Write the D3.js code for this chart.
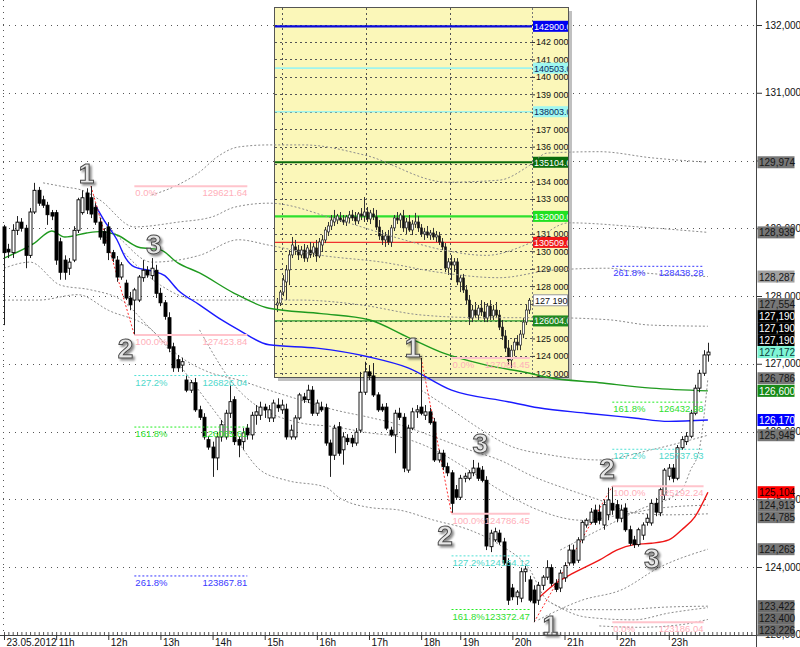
<!DOCTYPE html>
<html><head><meta charset="utf-8">
<script src="https://d3js.org/d3.v7.min.js"></script>
<style>body{margin:0;background:#fff}svg{display:block;font-family:Arial,"Liberation Sans",sans-serif}</style>
</head><body><svg id="c" width="800" height="647"></svg>
<script>
// ---------------- DATA ----------------
const hourTicks = [0,12,24,36,48,60,72,84,96,105,117,129,141,153];
const hourLabels = ["23.05.2012","11h","12h","13h","14h","15h","16h","17h","18h","19h","20h","21h","22h","23h"];
const priceTicks = [123000,124000,125000,126000,127000,128000,129000,130000,131000,132000];

// main candles [open, high, low, close]
const candles = [
[129020,129050,127570,128640],[128690,128770,128560,128650],[128640,129060,128560,128970],[128970,129180,128900,129090],
[129090,129150,128950,129000],[129000,129050,128410,128600],[128600,129300,128560,129240],[129240,129670,129210,129560],
[129560,129610,129330,129370],[129420,129480,129300,129340],[129340,129390,129050,129200],[129230,129270,129120,129180],
[129230,129270,128460,128530],[128800,128860,128240,128350],[128530,128600,128240,128350],[128410,128560,128310,128500],
[128530,129030,128500,128970],[128970,129450,128930,129420],[129230,129560,129200,129450],[129520,129590,129210,129270],
[129450,129622,129150,129210],[129310,129370,129050,129090],[129090,129150,128830,128870],[128950,129000,128740,128780],
[129020,129090,128530,128640],[128640,128680,128500,128560],[128530,128590,128210,128280],[128280,128500,128240,128460],
[128190,128240,127940,127970],[127970,128060,127790,127870],[127940,128120,127424,128090],[127940,128310,127910,128280],
[128270,128530,128210,128380],[128380,128440,128270,128310],[128300,128560,128240,128410],[128380,128460,127970,128040],
[128040,128120,127850,127900],[127900,127940,127650,127700],[127680,127760,127170,127230],[127250,127310,126880,126940],
[127060,127130,126880,126940],[126980,127090,126880,127030],[126760,126830,126580,126610],[126610,126760,126570,126720],
[126720,126790,126290,126320],[126320,126380,126170,126210],[126210,126270,125880,125920],[125880,125930,125730,125770],
[125770,125850,125330,125610],[125610,125990,125430,125920],[125920,126170,125850,126100],[125920,126320,125880,126270],
[126270,126690,126200,126440],[126470,126520,125800,125850],[125880,125930,125620,125800],[125850,126050,125730,125980],
[126050,126110,125880,125950],[125950,126290,125880,126240],[126240,126390,126100,126290],[126240,126440,126170,126360],
[126360,126410,126200,126320],[126200,126390,126140,126320],[126200,126470,126140,126420],[126390,126490,126290,126350],
[126320,126470,126260,126390],[126330,126410,125880,125920],[125920,126100,125880,126020],[125920,126240,125880,126200],
[126200,126570,126170,126540],[126510,126570,126420,126470],[126470,126690,126420,126610],[126610,126670,126230,126270],
[126270,126470,126230,126420],[126360,126440,126290,126320],[126350,126410,125790,125830],[125830,125880,125330,125650],
[125650,126100,125580,126050],[126070,126140,125640,125680],[125730,125990,125510,125920],[125900,125960,125800,125850],
[125900,125950,125770,125830],[125830,126050,125790,125990],[126020,126880,125980,126580],[126580,127030,126540,126880],
[126880,126980,126760,126820],[126820,127010,126510,126540],[126540,126580,126290,126320],[126360,126410,126290,126320],
[126360,126420,126020,126050],[126020,126070,125920,125950],[125950,126320,125680,126270],[126270,126350,126170,126210],
[126210,126270,125400,125460],[125430,126100,125390,126050],[126050,126350,126020,126290],[126290,126390,126200,126320],
[126360,127084,126240,126270],[126240,126390,126170,126290],[126290,126350,126100,126130],[126140,126200,125550,125580],
[125580,125730,125540,125680],[125680,125730,125430,125480],[125480,125540,125340,125390],[125390,125430,124786,124940],
[125140,125210,124990,125030],[125030,125360,124990,125310],[125310,125390,125250,125340],[125310,125430,125280,125390],
[125390,125580,125340,125460],[125460,125540,125270,125310],[125430,125490,125250,125280],[125280,125340,124250,124310],
[124300,124550,124220,124500],[124400,124580,124370,124520],[124500,124550,124330,124370],[124370,124430,124030,124060],
[124060,124130,123440,123510],[123690,123750,123510,123560],[123560,123660,123440,123630],[123540,123990,123480,123930],
[123930,124020,123780,123970],[123810,123870,123480,123510],[123660,123730,123186,123470],[123510,123780,123440,123730],
[123730,123880,123660,123850],[123850,124100,123810,123990],[123990,124040,123720,123760],[123760,123820,123630,123670],
[123690,123960,123630,123910],[123840,124070,123780,124020],[124060,124330,124020,124250],[124250,124330,124020,124060],
[124100,124440,124060,124400],[124400,124690,124350,124660],[124620,124720,124580,124690],[124660,124870,124630,124810],
[124840,124920,124620,124660],[124810,124920,124630,124690],[124620,124990,124550,124920],[124770,125170,124690,124990],
[124940,125192,124770,124840],[124920,124990,124660,124720],[124720,124920,124660,124840],[124870,124940,124520,124550],
[124550,124610,124310,124350],[124400,124460,124280,124330],[124330,124580,124300,124550],[124470,124660,124400,124620],
[124660,124780,124610,124720],[124650,124990,124610,124940],[124940,125020,124750,124810],[124800,125170,124750,125140],
[125060,125460,124990,125430],[125340,125520,125280,125460],[125460,125520,125250,125310],[125310,125800,125280,125760],
[125760,125930,125730,125880],[125850,125990,125800,125930],[125930,126320,125900,126270],[126270,126690,126240,126640],
[126640,126910,126580,126860],[126860,127200,126820,127130],[127130,127310,127030,127172]
];

// moving averages [candle index, price]
const maGreen = [[0,128560],[7,128780],[11,128960],[14,128870],[19,128930],[22,128950],[26,128900],[31,128720],[36,128680],[40,128490],[45,128340],[53,128040],[61,127820],[73,127740],[84,127650],[93,127390],[101,127160],[111,126980],[121,126860],[125,126800],[137,126720],[149,126640],[162,126600]];
const maBlue = [[21,129340],[23,129120],[26,128830],[28,128560],[30,128430],[34,128370],[37,128300],[40,128090],[45,127870],[50,127650],[54,127500],[61,127280],[72,127230],[84,127100],[93,126940],[103,126610],[116,126440],[123,126350],[134,126270],[145,126200],[153,126150],[162,126170]];
const maRed = [[123,123540],[127,123760],[131,123910],[137,124100],[141,124250],[145,124330],[149,124350],[153,124400],[156,124550],[159,124740],[162,125104]];

// envelope bands (grey dotted)
const band1 = [[34,129490],[40,129640],[45,129830],[49,130050],[54,130200],[61,130230],[69,130230],[83,130080],[102,129680],[114,129710],[121,129930],[125,130110],[137,130130],[149,130040],[162,129974]];
const band2 = [[9,129670],[14,129610],[18,129560],[22,129420],[30,129020],[40,129090],[48,129170],[53,129310],[61,129370],[77,129120],[92,128830],[101,128680],[111,128600],[121,128780],[130,129080],[146,129020],[162,128939]];
const band3 = [[20,129340],[27,128830],[34,128500],[45,128600],[54,128830],[61,128750],[73,128600],[87,128500],[100,128350],[114,128270],[126,128380],[139,128410],[146,128350],[162,128287]];
const band4 = [[27,128680],[36,128160],[45,127940],[57,127940],[68,127940],[82,127870],[96,127720],[110,127680],[125,127680],[139,127650],[149,127570],[162,127554]];
const band5 = [[128,124250],[137,124550],[146,124840],[156,125140],[158,125430],[160,125730],[162,126786]];
const band6 = [[96,126610],[103,126320],[110,126020],[116,125800],[126,125650],[137,125580],[149,125730],[162,125945]];
const band7 = [[0,128410],[6,128500],[13,128160],[20,128090],[27,127940],[34,127500],[40,127130],[47,126880],[54,126760],[61,126610],[68,126470],[76,126320],[84,126210],[91,126100],[99,125920],[107,125730],[114,125580],[122,125330],[130,125140],[137,124990],[145,124800],[153,124770],[162,124785]];
const band8 = [[45,127500],[54,126610],[68,126130],[76,126070],[84,125980],[91,125920],[99,125730],[107,125430],[114,125140],[123,124840],[133,124690],[142,124770],[151,124870],[162,124913]];
const band9 = [[123,123220],[133,123510],[142,123660],[151,124000],[162,124263]];
const band10 = [[0,127940],[8,127940],[17,128020],[24,127790],[34,127500],[43,126760],[50,126170],[54,125830],[59,125430],[65,125280],[74,125180],[77,125030],[84,124880],[91,124840],[99,124690],[107,124550],[114,124330],[121,123960],[125,123510],[131,123370],[141,123370],[153,123410],[162,123422]];
const band11 = [[126,123470],[134,123260],[145,123220],[153,123320],[162,123400]];
const band12 = [[137,123130],[146,123110],[156,123150],[162,123226]];

// fibonacci
const fibPct = ["0.0%","100.0%","127.2%","161.8%","261.8%"];
const fibA = [129621.64,127423.84,126826.04,126065.61,123867.81];
const fibB = [127084.45,124786.45,124164.12,123372.47];
const fibC = [123186.04,125192.24,125737.93,126432.98,128438.28];
const fibSpans = [[30,56],[103,121],[140,161]];

// zigzag swings
const zig1 = [[20,129621.64],[30,127423.84]];
const zig2 = [[96,127084.45],[103,124786.45]];
const zig3 = [[122,123186.04],[140,125192.24]];

// wave labels
const waveText = ["1","2","3","1","2","3","1","2","3"];
const waveIdx = [19,28,34.5,94,101.5,109.6,125.7,138.8,149.1];
const waveVal = [129815,127232,128770,127248,124472,125830,123144,125461,124133];

// right axis price marks
const markVals = [129974,128939,128287,127554,127190,127190,127190,127172,126786,126600,126170,125945,125104,124913,124785,124263,123422,123400,123226];
const markKinds = ["band","band","bandL","band","bid","bid","bid","last","band","ma1","ma2","band","ma3","band","band","band","bandD","bandD","bandD"];

// inset (overview) data
const insetCandles = [
[126920,127320,126520,127030],[127030,127780,126860,127660],[127660,128640,127430,128350],[128240,129210,127200,128930],
[128930,130070,128060,129790],[129790,130820,129610,130360],[130250,130650,129790,130070],[130070,130360,129500,129790],
[129790,130300,129610,130070],[130070,130420,129390,129610],[129610,130360,129390,130190],[130070,130530,129610,129790],
[129900,130470,129670,130250],[130190,130650,129390,129730],[129730,130760,129610,130530],[130360,130930,129960,130650],
[130650,131390,130470,131220],[131110,131680,130880,131450],[131450,132080,131220,131790],[131680,132370,131450,131910],
[131790,132140,131560,132020],[131910,132250,131680,131790],[131790,132080,131510,131680],[131680,132080,131450,131970],
[131910,132310,131620,132080],[132080,132370,131740,131910],[131970,132250,131510,131740],[131740,132250,131560,132140],
[132140,132480,131790,132020],[132020,133110,131680,132250],[132250,132540,131680,131850],[131850,132370,131560,132200],
[132140,132480,131790,131970],[131970,132370,131220,131390],[131390,131790,130650,130880],[130880,131220,130360,130650],
[130650,131110,130250,130880],[130880,131220,130360,130530],[130530,131510,130250,131340],[131340,132080,131160,131910],
[131910,132250,131560,131790],[131790,132200,131340,132080],[132020,132370,131110,131340],[131340,131910,130990,131680],
[131680,132080,131110,131220],[131220,131790,130930,131560],[131560,132200,131340,131680],[131680,132020,131110,131340],
[131340,131560,130820,130990],[130990,131340,130650,131110],[131110,131450,130760,130930],[130930,131220,130650,131050],
[131050,131340,130650,130820],[130820,131160,130530,130930],[130880,131110,130360,130530],[130530,130760,130070,130250],
[130250,130470,128810,129040],[129040,129610,128640,129390],[129390,129790,128350,129210],[129210,129610,128810,129390],
[129390,129610,128060,128240],[128240,128640,127660,128470],[128470,128700,127610,127780],[127780,128060,126920,127200],
[127200,127490,125770,126170],[126170,126920,125940,126630],[126630,127090,126170,126340],[126340,126920,126060,126740],
[126740,127200,126290,126520],[126520,127090,125940,126170],[126170,127030,125940,126860],[126860,127200,126060,126290],
[126290,126920,126060,126630],[126630,127090,126170,126340],[126340,126630,125480,125650],[125650,126060,124910,125140],
[125140,125480,124220,124450],[124450,124910,123470,123760],[123760,124620,123300,124330],[124330,125020,123990,124790],
[124790,125190,124330,124620],[124620,125480,124330,125250],[125250,126170,125020,125940],[125940,126920,125770,126630],
[126630,127320,126400,127190]
];
const insetTicks = [123000,124000,125000,126000,127000,128000,129000,130000,131000,132000,133000,134000,135000,136000,137000,138000,139000,140000,141000,142000,143000];
const insetLevels = [142900,140503,138003,135104,132000,130509,126004];
const insetLevelKinds = ["blue","cyan","cyan","dkgreen","lime","red","green"];
const insetLast = 127190;
const insetSeparators = [1.5,29.5,57.5];

// ---------------- DRAWING ----------------
const svg = d3.select("#c");
const x = d3.scaleLinear().domain([0,162]).range([4,707.9]);
const y = d3.scaleLinear().domain([123000,132000]).range([634.75,25]);
const xi = d3.scaleLinear().domain([-1,85]).range([274,532]);
const yi = d3.scaleLinear().domain([124000,142000]).range([355.9,42]);
const fmtComma = d3.format(",");
const fmtSpace = d3.formatLocale({decimal:".",thousands:" ",grouping:[3],currency:["",""]}).format(",");
const px = v => Math.round(v)+0.5;

const defs = svg.append("defs");
defs.append("clipPath").attr("id","mainClip").append("rect").attr("x",0).attr("y",0).attr("width",756).attr("height",635);
defs.append("clipPath").attr("id","insClip").append("rect").attr("x",275).attr("y",8).attr("width",257).attr("height",369);
defs.append("clipPath").attr("id","insAxClip").append("rect").attr("x",532).attr("y",8).attr("width",36).attr("height",369);
const flt = defs.append("filter").attr("id","sh").attr("x","-40%").attr("y","-40%").attr("width","180%").attr("height","180%");
flt.append("feDropShadow").attr("dx",2).attr("dy",2).attr("stdDeviation",1.3).attr("flood-color","#000").attr("flood-opacity",0.45);

// main grid
svg.append("g").selectAll("line").data(priceTicks).join("line")
  .attr("x1",3).attr("x2",754).attr("y1",d=>px(y(d))).attr("y2",d=>px(y(d)))
  .attr("stroke","#555").attr("stroke-dasharray","1,5");
svg.append("line").attr("x1",3.5).attr("x2",3.5).attr("y1",0).attr("y2",635)
  .attr("stroke","#555").attr("stroke-dasharray","1,5");

// ---------- inset ----------
const ins = svg.append("g");
ins.append("rect").attr("x",278).attr("y",11).attr("width",294).attr("height",370).attr("fill","#8c8c8c").attr("opacity",0.55);
ins.append("rect").attr("x",274.5).attr("y",7.5).attr("width",294).attr("height",370).attr("fill","#fbf7b9").attr("stroke","#555");
const insP = ins.append("g").attr("clip-path","url(#insClip)");
insP.selectAll("line.hg").data(insetTicks).join("line").attr("class","hg")
  .attr("x1",275).attr("x2",532).attr("y1",d=>px(yi(d))).attr("y2",d=>px(yi(d)))
  .attr("stroke","#555").attr("stroke-dasharray","2,3");
insP.selectAll("line.vg").data(insetSeparators).join("line").attr("class","vg")
  .attr("x1",d=>px(xi(d))).attr("x2",d=>px(xi(d))).attr("y1",8).attr("y2",378)
  .attr("stroke","#555").attr("stroke-dasharray","2,3");
const lvlStyle = {blue:["#0a0adc",2.2],cyan:["#9ff5ee",1.6],dkgreen:["#0b6b0b",2.2],lime:["#2ee02e",2.2],red:["#f03030",1.2],green:["#2a9a2a",1.2]};
insP.selectAll("line.lv").data(insetLevels).join("line").attr("class","lv")
  .attr("x1",275).attr("x2",532).attr("y1",d=>yi(d)).attr("y2",d=>yi(d))
  .attr("stroke",(d,i)=>lvlStyle[insetLevelKinds[i]][0]).attr("stroke-width",(d,i)=>lvlStyle[insetLevelKinds[i]][1]);
const ic = insP.selectAll("g.ic").data(insetCandles).join("g").attr("class","ic");
ic.append("line").attr("x1",(d,i)=>px(xi(i))).attr("x2",(d,i)=>px(xi(i)))
  .attr("y1",d=>yi(d[1])).attr("y2",d=>yi(d[2])).attr("stroke","#333");
ic.append("rect").attr("x",(d,i)=>Math.round(xi(i))-0.5).attr("width",2)
  .attr("y",d=>yi(Math.max(d[0],d[3]))).attr("height",d=>Math.max(1,Math.abs(yi(d[0])-yi(d[3]))))
  .attr("fill",d=>d[3]>=d[0]?"#fff":"#111").attr("stroke","#222").attr("stroke-width",0.7);
// inset axis (tick labels fully hidden under a price box are not drawn)
ins.append("line").attr("x1",532.5).attr("x2",532.5).attr("y1",8).attr("y2",377).attr("stroke","#777").attr("stroke-dasharray","2,2");
const iax = ins.append("g").attr("clip-path","url(#insAxClip)");
const boxYs = insetLevels.concat([insetLast]).map(v=>yi(v));
const insetShown = insetTicks.filter(t=>boxYs.every(b=>Math.abs(b-yi(t))>4.5));
const iaxG = iax.append("g").attr("transform","translate(532,0)")
  .call(d3.axisRight(yi).tickValues(insetTicks).tickFormat(d=>insetShown.includes(d)?fmtSpace(d):"").tickSize(3).tickPadding(1).tickSizeOuter(0));
iaxG.select(".domain").remove();
iaxG.selectAll("line").attr("stroke","#333");
iaxG.selectAll("text").attr("font-size",9).attr("fill","#111").attr("font-family","Arial");
const boxStyle = {blue:["#0000f0","#fff"],cyan:["#9ff7f0","#0a2a60"],dkgreen:["#0b6b0b","#fff"],lime:["#22e022","#fff"],red:["#f01818","#fff"],green:["#1f8a1f","#fff"]};
const ib = iax.selectAll("g.ib").data(insetLevels).join("g").attr("class","ib");
ib.append("rect").attr("x",533).attr("y",d=>yi(d)-5.5).attr("width",36).attr("height",11)
  .attr("fill",(d,i)=>boxStyle[insetLevelKinds[i]][0]);
ib.append("text").attr("x",534).attr("y",d=>yi(d)+3.5).attr("font-size",9)
  .attr("fill",(d,i)=>boxStyle[insetLevelKinds[i]][1]).text(d=>d3.format(".1f")(d));
iax.append("rect").attr("x",533.5).attr("y",yi(insetLast)-5.5).attr("width",34).attr("height",11)
  .attr("fill","#fff").attr("stroke","#999");
iax.append("text").attr("x",535).attr("y",yi(insetLast)+3.5).attr("font-size",9).attr("fill","#111").text(fmtSpace(insetLast));

// ---------- main series ----------
const main = svg.append("g").attr("clip-path","url(#mainClip)");
const lineGen = d3.line().x(d=>x(d[0])).y(d=>y(d[1])).curve(d3.curveMonotoneX);
const bands = [band1,band2,band3,band4,band5,band6,band7,band8,band9,band10,band11,band12];
main.selectAll("path.band").data(bands).join("path").attr("class","band")
  .attr("d",lineGen).attr("fill","none").attr("stroke","#8c8c8c").attr("stroke-width",1).attr("stroke-dasharray","2,2");
[[maGreen,"#1f9a1f"],[maBlue,"#1a1aff"],[maRed,"#ee1515"]].forEach(([d,c])=>{
  main.append("path").datum(d).attr("d",lineGen).attr("fill","none").attr("stroke",c).attr("stroke-width",1.4);
});

// fibonacci levels
const fibStyle = [
  {line:"#ffc4cc",text:"#ffafba",w:2,dash:null},
  {line:"#ffc4cc",text:"#ffafba",w:2,dash:null},
  {line:"#4fe0d4",text:"#4fd8cc",w:1,dash:"2,2"},
  {line:"#22ee22",text:"#2ee02e",w:1,dash:"2,2"},
  {line:"#3535ff",text:"#3a3aff",w:1,dash:"2,2"}
];
const fg = svg.append("g").attr("clip-path","url(#mainClip)");
[fibA,fibB,fibC].forEach((vals,s)=>{
  const [a,b] = fibSpans[s];
  vals.forEach((v,k)=>{
    const st = fibStyle[k], yy = y(v);
    fg.append("line").attr("x1",x(a)).attr("x2",x(b)).attr("y1",yy).attr("y2",yy)
      .attr("stroke",st.line).attr("stroke-width",st.w).attr("stroke-dasharray",st.dash);
    fg.append("text").attr("x",x(a)+1).attr("y",yy+10).attr("font-size",9.5).attr("fill",st.text).text(fibPct[k]);
    fg.append("text").attr("x",x(b)).attr("y",yy+10).attr("font-size",9.5).attr("fill",st.text)
      .attr("text-anchor","end").text(d3.format(".2f")(v));
  });
});

// zigzag
const zigGen = d3.line().x(d=>x(d[0])).y(d=>y(d[1]));
main.selectAll("path.zig").data([zig1,zig2,zig3]).join("path").attr("class","zig")
  .attr("d",zigGen).attr("fill","none").attr("stroke","#ff2a2a").attr("stroke-width",1).attr("stroke-dasharray","2,2");

// candles
const cg = main.selectAll("g.cd").data(candles).join("g").attr("class","cd");
cg.append("line").attr("x1",(d,i)=>px(x(i))).attr("x2",(d,i)=>px(x(i)))
  .attr("y1",d=>y(d[1])).attr("y2",d=>y(d[2])).attr("stroke","#222");
cg.append("rect").attr("x",(d,i)=>Math.round(x(i))-1).attr("width",3)
  .attr("y",d=>y(Math.max(d[0],d[3]))).attr("height",d=>Math.max(1,Math.abs(y(d[0])-y(d[3]))))
  .attr("fill",d=>d[3]>=d[0]?"#fff":"#000").attr("stroke","#000").attr("stroke-width",0.9);

// wave labels
svg.append("g").selectAll("text").data(waveText).join("text")
  .attr("x",(d,i)=>x(waveIdx[i])).attr("y",(d,i)=>y(waveVal[i])+10)
  .attr("text-anchor","middle").attr("font-size",28).attr("font-weight","bold")
  .attr("fill","#e6e6e6").attr("stroke","#4a4a4a").attr("stroke-width",1)
  .attr("filter","url(#sh)").text(d=>d);

// ---------- axes ----------
const markYs = markVals.map(v=>y(v));
const ay = svg.append("g").attr("transform","translate(756,0)")
  .call(d3.axisRight(y).tickValues(priceTicks)
    .tickFormat(d=>markYs.some(m=>Math.abs(m-y(d))<3)?"":fmtComma(d)).tickSize(6).tickPadding(3).tickSizeOuter(0));
ay.select(".domain").remove();
ay.selectAll("line").attr("stroke","#333");
ay.selectAll("text").attr("font-size",10).attr("fill","#111").attr("font-family","Arial");
svg.append("line").attr("x1",756.5).attr("x2",756.5).attr("y1",0).attr("y2",647).attr("stroke","#444");

svg.append("line").attr("x1",0).attr("x2",756).attr("y1",635.5).attr("y2",635.5).attr("stroke","#444");
const minor = d3.range(0,175).filter(i=>x(i)<754);
const axm = svg.append("g").attr("transform","translate(0,635)")
  .call(d3.axisBottom(x).tickValues(minor).tickFormat("").tickSize(-3).tickSizeOuter(0));
axm.select(".domain").remove();
axm.selectAll("line").attr("stroke","#555");
const ax = svg.append("g").attr("transform","translate(0,635)")
  .call(d3.axisBottom(x).tickValues(hourTicks).tickFormat((d,i)=>hourLabels[i]).tickSize(5).tickPadding(-1).tickSizeOuter(0));
ax.select(".domain").remove();
ax.selectAll("line").attr("stroke","#333");
ax.selectAll("text").attr("text-anchor","start").attr("dx",2).attr("font-size",10).attr("fill","#111").attr("font-family","Arial");

// price marks on right axis with overlap resolution around the last price
const markStyle = {band:["#777","#161616"],bandL:["#a0a0a0","#161616"],bandD:["#6c6c6c","#161616"],bid:["#000","#fff"],
  last:["#7ff5d5","#0b3b3b"],ma1:["#178a17","#fff"],ma2:["#0000ff","#fff"],ma3:["#ff0000","#1a0000"]};
const marks = markVals.map((v,i)=>({v,k:markKinds[i],yy:y(v)})).sort((a,b)=>a.yy-b.yy);
const h = 12, ai = marks.findIndex(m=>m.k==="last");
for(let i=ai-1;i>=0;i--) marks[i].yy = Math.min(marks[i].yy, marks[i+1].yy-h);
for(let i=ai+1;i<marks.length;i++) marks[i].yy = Math.max(marks[i].yy, marks[i-1].yy+h);
const mg = svg.append("g").selectAll("g").data(marks).join("g");
mg.append("rect").attr("x",757.5).attr("y",d=>d.yy-6).attr("width",37).attr("height",12)
  .attr("fill",d=>markStyle[d.k][0]);
mg.append("text").attr("x",759).attr("y",d=>d.yy+4).attr("font-size",10)
  .attr("fill",d=>markStyle[d.k][1]).text(d=>fmtComma(d.v));
</script></body></html>
